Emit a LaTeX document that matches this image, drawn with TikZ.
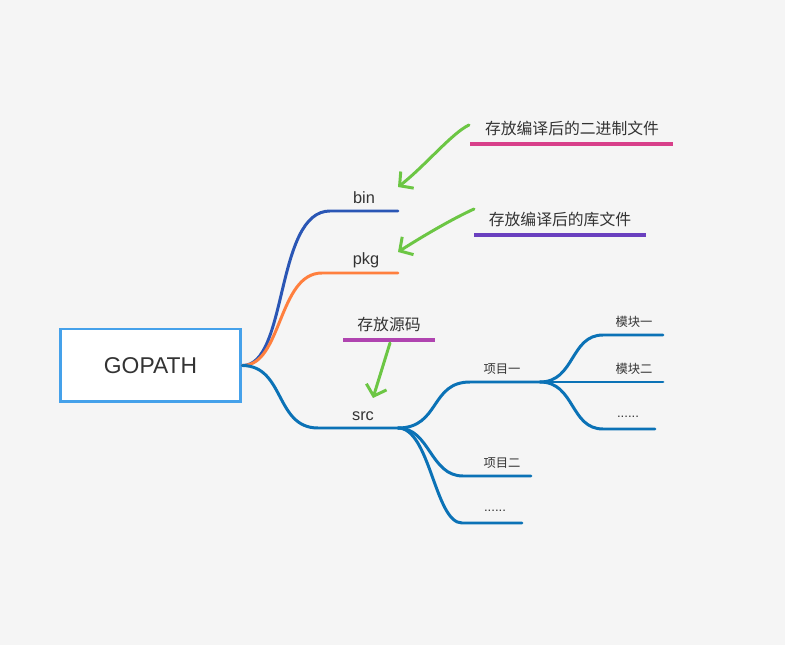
\documentclass[tikz,border=0pt]{standalone}
\usepackage{fontspec}
\setmainfont{Liberation Sans}
\newfontfamily\cjk{Noto Sans CJK SC}
\usetikzlibrary{arrows.meta}
\definecolor{hgrund}{HTML}{F5F5F5}
\definecolor{boxblau}{HTML}{45A1EA}
\definecolor{binblau}{HTML}{2A56B5}
\definecolor{pkgorange}{HTML}{FF7F3E}
\definecolor{srcblau}{HTML}{0B72B6}
\definecolor{pfeilgruen}{HTML}{6CC644}
\definecolor{binrosa}{HTML}{D8408A}
\definecolor{pkglila}{HTML}{6A40BF}
\definecolor{srcviolett}{HTML}{B044B0}
\definecolor{schrift}{HTML}{333333}
\tikzset{
  ast/.style={line width=1.7pt, line cap=round},
  beschr/.style={text=schrift, inner sep=0pt, font=\fontsize{9.3}{10}\selectfont},
  klein/.style={text=schrift, inner sep=0pt, font=\cjk\fontsize{7}{8}\selectfont},
  punkte/.style={text=schrift, inner sep=0pt, font=\fontsize{7.5}{8}\selectfont},
  notiz/.style={text=schrift, inner sep=0pt, font=\cjk\fontsize{9}{10}\selectfont},
  strich/.style={line width=1.9pt},
  hinweis/.style={pfeilgruen, line width=1.7pt, line cap=round,
    -{Straight Barb[length=5.5pt,width=12pt,line width=1.7pt]}}
}
\begin{document}
\begin{tikzpicture}[x=0.02cm,y=-0.02cm]
  \fill[hgrund] (0,0) rectangle (785,645);

  % Wurzel
  \node (root) [draw=boxblau, fill=white, line width=1.7pt, minimum width=3.62cm,
    minimum height=1.46cm, text=schrift, font=\fontsize{13}{15}\selectfont]
    at (150.5,365.5) {GOPATH};

  % Hauptaeste
  \coordinate (binL) at (330,211);  \coordinate (binR) at (398,211);
  \coordinate (pkgL) at (322,273);  \coordinate (pkgR) at (398,273);
  \coordinate (srcL) at (318,428);  \coordinate (srcR) at (398,428);
  \draw[ast, binblau] (root.east) .. controls (288,366) and (275,211) .. (binL) -- (binR);
  \draw[ast, pkgorange] (root.east) .. controls (282,366) and (278,273) .. (pkgL) -- (pkgR);
  \draw[ast, srcblau] (root.east) .. controls (285,366) and (275,428) .. (srcL) -- (srcR);
  \node[beschr] (bin) at (364,198) {bin};
  \node[beschr] (pkg) at (366,260) {pkg};
  \node[beschr] (src) at (363,416) {src};

  % Projekte
  \coordinate (p1L) at (470,382);  \coordinate (p1R) at (540,382);
  \coordinate (p2L) at (463,476);  \coordinate (p2R) at (531,476);
  \coordinate (p3L) at (462,523);  \coordinate (p3R) at (522,523);
  \draw[ast, srcblau] (srcR) .. controls (440,428) and (430,382) .. (p1L) -- (p1R);
  \draw[ast, srcblau] (srcR) .. controls (430,428) and (430,476) .. (p2L) -- (p2R);
  \draw[ast, srcblau] (srcR) .. controls (430,428) and (435,523) .. (p3L) -- (p3R);
  \node[klein] (proj1) at (502,369) {项目一};
  \node[klein] (proj2) at (502,463) {项目二};
  \node[punkte] (proj3) at (495,511) {......};

  % Module
  \coordinate (m1L) at (603,335);  \coordinate (m1R) at (663,335);
  \coordinate (m2R) at (663,382);
  \coordinate (m3L) at (603,429);  \coordinate (m3R) at (655,429);
  \draw[ast, srcblau] (p1R) .. controls (575,382) and (570,335) .. (m1L) -- (m1R);
  \draw[ast, srcblau] (p1R) -- (m2R);
  \draw[ast, srcblau] (p1R) .. controls (575,382) and (570,429) .. (m3L) -- (m3R);
  \node[klein] (mod1) at (634,322) {模块一};
  \node[klein] (mod2) at (634,369) {模块二};
  \node[punkte] (mod3) at (628,417) {......};

  % Hinweise
  \node[notiz] (nbin) at (572,128) {存放编译后的二进制文件};
  \node[notiz] (npkg) at (560,219) {存放编译后的库文件};
  \node[notiz] (nsrc) at (389,324) {存放源码};
  \draw[strich, binrosa] (470,144) -- (673,144);
  \draw[strich, pkglila] (474,235) -- (646,235);
  \draw[strich, srcviolett] (343,340) -- (435,340);
  \coordinate (abin) at (469,125);  \coordinate (zbin) at (398,187);
  \coordinate (apkg) at (474,209);  \coordinate (zpkg) at (398,252);
  \coordinate (asrc) at (390,343);  \coordinate (zsrc) at (373,398);
  \draw[hinweis] (abin) .. controls (452,133) and (425,166) .. (zbin);
  \draw[hinweis] (apkg) .. controls (450,220) and (420,238) .. (zpkg);
  \draw[hinweis] (asrc) -- (zsrc);
\end{tikzpicture}
\end{document}
